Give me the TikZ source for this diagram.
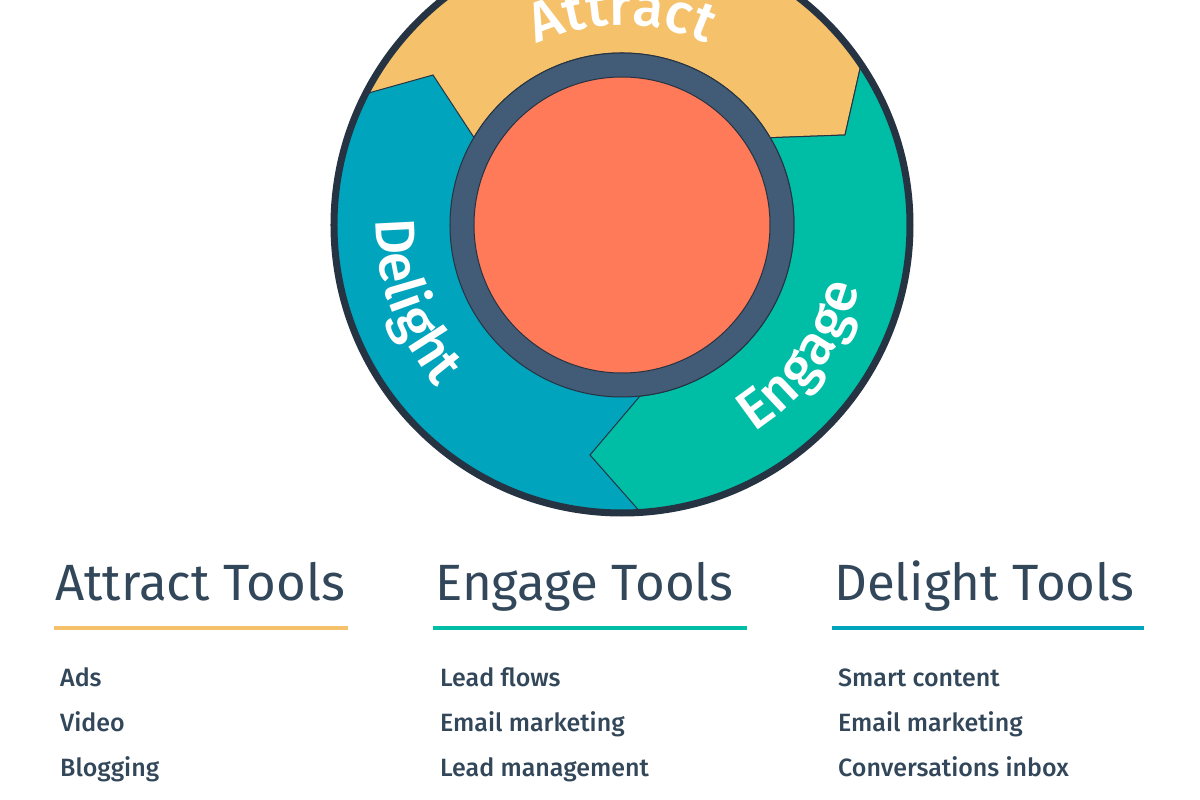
\documentclass[tikz,border=0pt]{standalone}
\usepackage{fontspec}
\setmainfont{Fira Sans}[BoldFont=Fira Sans Medium]
\usetikzlibrary{decorations.text}
\definecolor{dk}{HTML}{253342}
\definecolor{slate}{HTML}{425B76}
\definecolor{orng}{HTML}{FF7A59}
\definecolor{attc}{HTML}{F5C26B}
\definecolor{engc}{HTML}{00BDA5}
\definecolor{delc}{HTML}{00A4BD}
\definecolor{txt}{HTML}{33475B}
\newcommand\flyfont{\bfseries\fontsize{56}{56}\selectfont}
\begin{document}
\begin{tikzpicture}[x=1pt,y=1pt,
  seg/.style={draw=dk,line width=1},
  title/.style={anchor=base west,inner sep=0,text=txt,font=\fontsize{51}{51}\selectfont},
  item/.style={anchor=base west,inner sep=0,text=txt,font=\bfseries\fontsize{25}{25}\selectfont},
  flytext/.style={decorate,decoration={text along path,text align=center,text color=white,text={|\flyfont|#1}}}]
\useasboundingbox[fill=white] (-622,-575) rectangle (578,225);
% flywheel
\fill[delc] (0,0) circle[radius=288];
\coordinate (P2) at (-189,150);
\coordinate (Q2) at (223,90);
\coordinate (R2) at (-32,-230);
\path[seg,fill=attc] (152.9:288) arc[start angle=152.9,end angle=33.9,radius=288] -- (Q2) -- (30.5:172) arc[start angle=30.5,end angle=149.4,radius=172] -- (P2) -- cycle;
\path[seg,fill=engc] (33.9:288) arc[start angle=33.9,end angle=-86.3,radius=288] -- (R2) -- (-84:172) arc[start angle=-84,end angle=30.5,radius=172] -- (Q2) -- cycle;
\draw[dk,line width=7] (0,0) circle[radius=288];
\node[circle,draw=dk,line width=1,fill=slate,minimum size=344] (ring) at (0,0) {};
\node[circle,draw=dk,line width=1,fill=orng,minimum size=296] (hub) at (0,0) {};
\path[flytext=Attract] (150:200) arc[start angle=150,end angle=30,radius=200];
\path[flytext=Delight] (145:246) arc[start angle=145,end angle=255,radius=246];
\path[flytext=Engage] (-86:246) arc[start angle=-86,end angle=14,radius=246];
% tools
\node[title] (t1) at (55-622,225-600) {Attract Tools};
\node[title] (t2) at (435-622,225-600) {Engage Tools};
\node[title] (t3) at (834-622,225-600) {Delight Tools};
\fill[attc] (54-622,225-626) rectangle (348-622,225-630);
\fill[engc] (433-622,225-626) rectangle (747-622,225-630);
\fill[delc] (832-622,225-626) rectangle (1144-622,225-630);
\node[item] (a1) at (60-622,225-686) {Ads};
\node[item] (a2) at (60-622,225-731) {Video};
\node[item] (a3) at (60-622,225-776) {Blogging};
\node[item] (e1) at (440-622,225-686) {Lead flows};
\node[item] (e2) at (440-622,225-731) {Email marketing};
\node[item] (e3) at (440-622,225-776) {Lead management};
\node[item] (d1) at (838-622,225-686) {Smart content};
\node[item] (d2) at (838-622,225-731) {Email marketing};
\node[item] (d3) at (838-622,225-776) {Conversations inbox};
\end{tikzpicture}
\end{document}
